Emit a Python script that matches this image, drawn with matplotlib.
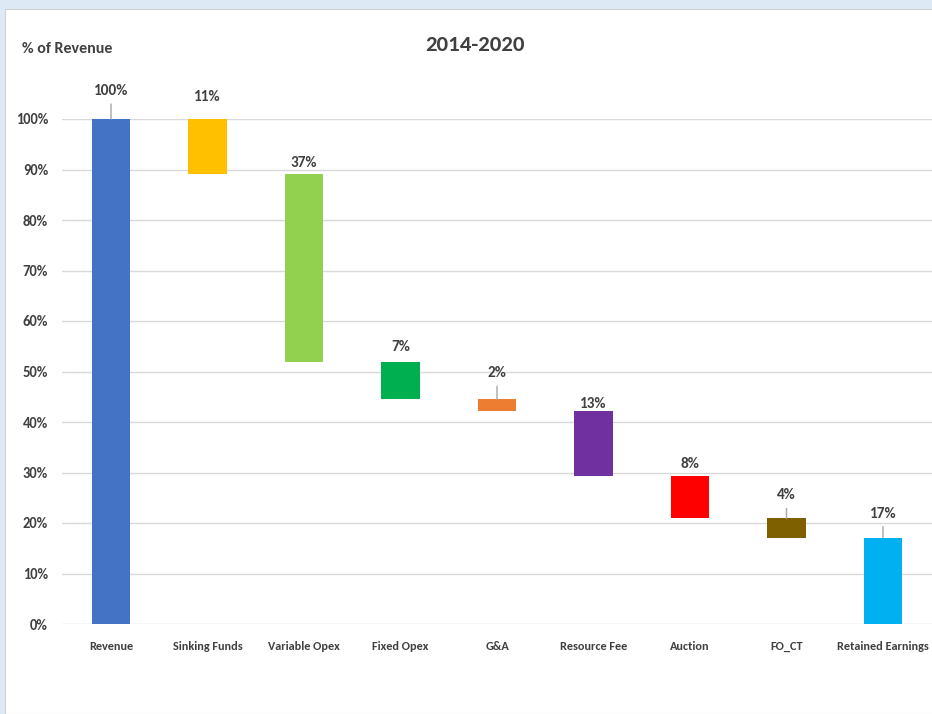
import numpy as np
import matplotlib.pyplot as plt
from matplotlib.patches import Rectangle

# datos del waterfall (% del revenue)
categories = ['Revenue', 'Sinking Funds', 'Variable Opex', 'Fixed Opex', 'G&A',
              'Resource Fee', 'Auction', 'FO_CT', 'Retained Earnings']
deductions = [10.9, 37.3, 7.3, 2.4, 12.8, 8.4, 3.8]
revenue = 100.0
colors = ['#4472C4', '#FFC000', '#92D050', '#00B050', '#ED7D31',
          '#7030A0', '#FF0000', '#7F6000', '#00B0F0']
yticks = np.arange(0, 101, 10)

plt.rcParams['font.family'] = ['Carlito', 'DejaVu Sans']
txt = '#404040'

retained = revenue - sum(deductions)
heights = [revenue] + deductions + [retained]
bottoms = [0.0]
level = revenue
for d in deductions:
    level -= d
    bottoms.append(level)
bottoms.append(0.0)

fig = plt.figure(figsize=(9.32, 7.14), dpi=100)
fig.patch.set_facecolor('#DDEAF5')
fig.add_artist(Rectangle((5 / 932, 0), 1, 1 - 9 / 714, transform=fig.transFigure,
                         facecolor='white', edgecolor='#D0D0D0', lw=0.8, zorder=0))

ax = fig.add_axes([62 / 932, 90 / 714, 870 / 932, 505 / 714])
ax.set_facecolor('none')
x = np.arange(len(categories))
ax.bar(x, heights, bottom=bottoms, width=0.40, color=colors, zorder=3)

ax.set_xlim(-0.508, 8.508)
ax.set_ylim(0, 100)
ax.set_yticks(yticks)
ax.set_yticklabels([f'{t}%' for t in yticks], fontsize=10.5, color=txt, fontweight='semibold')
ax.set_xticks(x)
ax.set_xticklabels(categories, fontsize=8.8, color=txt, fontweight='semibold')
ax.tick_params(length=0, pad=10)
ax.tick_params(axis='x', pad=12)
ax.grid(axis='y', color='#D9D9D9', lw=1, zorder=0)
for s in ax.spines.values():
    s.set_visible(False)

# etiquetas con líneas guía como en Excel
offsets = [28, 22, 11, 15, 26, 7, 12, 23, 24]  # px desde la barra al centro del texto
leader = [True, False, False, False, True, False, False, True, True]
for i, (h, b) in enumerate(zip(heights, bottoms)):
    top = b + h
    ax.annotate(f'{round(h):.0f}%', (i, top), xytext=(0, offsets[i] * 0.72),
                textcoords='offset points', ha='center', va='center',
                fontsize=11, fontweight='bold', color=txt, annotation_clip=False)
    if leader[i]:
        ax.annotate('', (i, top), xytext=(0, (offsets[i] - 13) * 0.72),
                    textcoords='offset points', annotation_clip=False,
                    arrowprops=dict(arrowstyle='-', color='#A6A6A6', lw=1,
                                    shrinkA=0, shrinkB=0))

fig.text(475 / 932, 1 - 45 / 714, '2014-2020', ha='center', va='center',
         fontsize=16.5, fontweight='bold', color=txt)
fig.text(22 / 932, 1 - 49 / 714, '% of Revenue', ha='left', va='center',
         fontsize=11.5, fontweight='semibold', color=txt)

fig.savefig('out.png', dpi=100, facecolor=fig.get_facecolor())
